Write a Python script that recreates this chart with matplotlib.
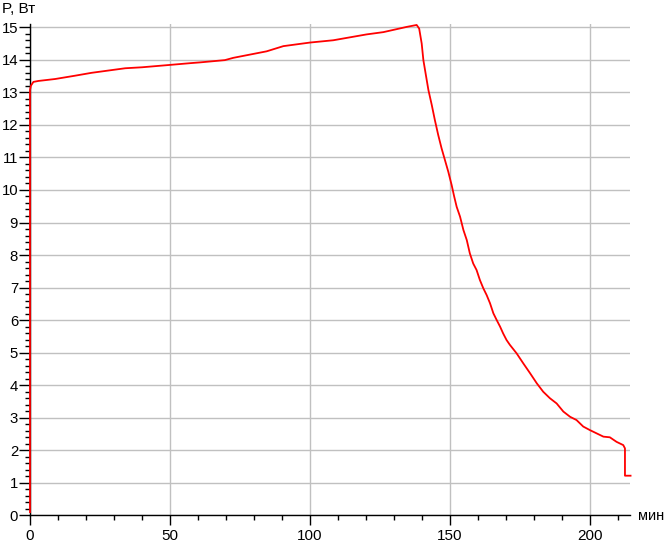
import matplotlib.pyplot as plt
import numpy as np

plt.rcParams['font.family'] = ['Liberation Sans', 'DejaVu Sans']

# время, мин / мощность, Вт
t = [0.0, 0.0, 0.3, 1.2, 3, 9, 16, 22, 28, 34, 40, 49.6, 57.7, 60.7, 69.6, 72.6,
     84.5, 90.5, 100, 108.3, 120.2, 126.2, 134.5, 138.1, 139.0, 139.9, 140.5,
     141.3, 142.3, 143.5, 144.6, 145.8, 147.0, 148.2, 149.4, 150.6, 151.5,
     152.4, 153.6, 154.8, 156.0, 157.1, 158.3, 159.5, 160.7, 161.9, 163.1,
     164.3, 165.5, 166.7, 167.9, 169.0, 170.2, 171.4, 173.8, 176.2, 178.6,
     181.0, 183.3, 185.7, 188.1, 190.5, 192.9, 195.2, 197.6, 200.0, 202.4,
     204.8, 207.1, 209.5, 211.9, 212.5, 212.5, 214.5]
p = [0.1, 13.07, 13.2, 13.32, 13.35, 13.41, 13.51, 13.60, 13.67, 13.74, 13.77,
     13.84, 13.90, 13.92, 13.99, 14.06, 14.26, 14.42, 14.53, 14.60, 14.78,
     14.85, 15.01, 15.07, 14.96, 14.5, 13.99, 13.58, 13.07, 12.61, 12.15,
     11.69, 11.28, 10.92, 10.56, 10.15, 9.80, 9.48, 9.18, 8.77, 8.46, 8.05,
     7.74, 7.54, 7.23, 6.98, 6.77, 6.52, 6.21, 6.00, 5.80, 5.59, 5.39, 5.24,
     4.98, 4.67, 4.37, 4.06, 3.80, 3.60, 3.44, 3.19, 3.03, 2.93, 2.73, 2.62,
     2.52, 2.42, 2.40, 2.26, 2.16, 2.06, 1.22, 1.22]

fig = plt.figure(figsize=(6.65, 5.43), dpi=100)
ax = fig.add_axes([30/665, 27.6/543, 600/665, 491.4/543])

ax.plot(t, p, color='#ff0000', linewidth=1.3, zorder=3, clip_on=False)

ax.set_xlim(0, 214.3)
ax.set_ylim(0, 15.1)
ax.set_xticks(np.arange(0, 201, 50))
ax.set_xticks(np.arange(0, 214, 10), minor=True)
ax.set_yticks(np.arange(0, 16, 1))
ax.set_yticks(np.arange(0, 15.05, 0.2), minor=True)

ax.grid(True, which='major', color='#c0c0c0', linewidth=1)
ax.set_axisbelow(True)
for s in ['top', 'right']:
    ax.spines[s].set_visible(False)
for s in ['left', 'bottom']:
    ax.spines[s].set_linewidth(1)

ax.tick_params(axis='y', which='major', length=7.6, width=1, pad=1.0, labelsize=10.7)
ax.tick_params(axis='y', which='minor', length=3.6, width=1)
ax.tick_params(axis='x', which='major', length=7.2, width=1, pad=2.5, labelsize=11)
ax.tick_params(axis='x', which='minor', length=3.6, width=1)

fig.text(2/665, (543-13.3)/543, 'P, Вт', fontsize=11, va='baseline', ha='left')
fig.text(638/665, (543-520)/543, 'мин', fontsize=10.5, va='baseline', ha='left')

fig.savefig('out.png', dpi=100)
